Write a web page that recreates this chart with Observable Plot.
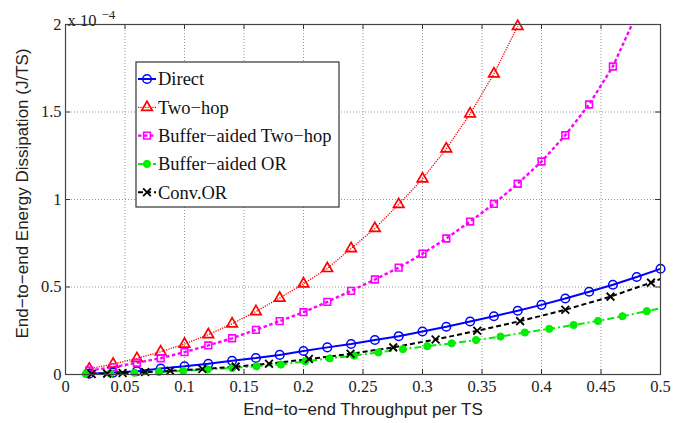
<!DOCTYPE html>
<html>
<head>
<meta charset="utf-8">
<script src="https://cdn.jsdelivr.net/npm/d3@7"></script>
<script src="https://cdn.jsdelivr.net/npm/@observablehq/plot@0.6"></script>
<style>
  html, body { margin: 0; padding: 0; background: #fff; }
</style>
</head>
<body>
<div id="chart"></div>
<script>
// Values of energy dissipation are in units of 1e-4 J/TS (axis multiplier "x 10^-4").
const gridX = [0.02,0.04,0.06,0.08,0.10,0.12,0.14,0.16,0.18,0.20,0.22,0.24,0.26,0.28,0.30,0.32,0.34,0.36,0.38,0.40,0.42,0.44,0.46,0.48,0.50];

const directX = gridX;
const directY = [0.005,0.011,0.019,0.034,0.047,0.061,0.078,0.094,0.112,0.134,0.155,0.174,0.197,0.219,0.246,0.273,0.303,0.333,0.364,0.398,0.434,0.473,0.513,0.557,0.604];

const twoHopX = [0.02,0.04,0.06,0.08,0.10,0.12,0.14,0.16,0.18,0.20,0.22,0.24,0.26,0.28,0.30,0.32,0.34,0.36,0.38];
const twoHopY = [0.032,0.060,0.092,0.130,0.174,0.228,0.290,0.360,0.437,0.518,0.606,0.720,0.835,0.972,1.118,1.290,1.490,1.718,1.990];

const bufTwoHopX = [0.02,0.04,0.06,0.08,0.10,0.12,0.14,0.16,0.18,0.20,0.22,0.24,0.26,0.28,0.30,0.32,0.34,0.36,0.38,0.40,0.42,0.44,0.46,0.48];
const bufTwoHopY = [0.023,0.042,0.067,0.093,0.128,0.166,0.207,0.255,0.305,0.356,0.415,0.478,0.543,0.611,0.690,0.777,0.874,0.975,1.090,1.217,1.367,1.543,1.760,2.060];

const bufORX = [0.017,0.0375,0.058,0.0785,0.099,0.1195,0.14,0.1605,0.181,0.2015,0.222,0.2425,0.263,0.2835,0.304,0.3245,0.345,0.3655,0.386,0.4065,0.427,0.4475,0.468,0.4885,0.509];
const bufORY = [0.003,0.006,0.010,0.015,0.021,0.029,0.037,0.047,0.057,0.075,0.092,0.108,0.126,0.145,0.162,0.178,0.197,0.217,0.240,0.261,0.283,0.306,0.333,0.362,0.392];

const convORX = [0.022,0.035,0.048,0.067,0.088,0.115,0.143,0.171,0.2045,0.2395,0.2754,0.311,0.346,0.382,0.420,0.458,0.492,0.528];
const convORY = [0.003,0.005,0.008,0.014,0.021,0.031,0.045,0.062,0.088,0.118,0.155,0.200,0.250,0.305,0.370,0.445,0.525,0.620];

const seriesNames = ["Direct","Two\u2212hop","Buffer\u2212aided Two\u2212hop","Buffer\u2212aided OR","Conv.OR"];

const xTicks = [0,0.05,0.1,0.15,0.2,0.25,0.3,0.35,0.4,0.45,0.5];
const xTickLabels = ["0","0.05","0.1","0.15","0.2","0.25","0.3","0.35","0.4","0.45","0.5"];
const yTicks = [0,0.5,1,1.5,2];
const yTickLabels = ["0","0.5","1","1.5","2"];

const xTitle = "End\u2212to\u2212end Throughput per TS";
const yTitle = "End\u2212to\u2212end Energy Dissipation (J/TS)";

const styles = [
  {color:"#0000ff", symbol:"circle",   fill:"none",    r:4.3, sw:1.5, lw:2,   dash:null},
  {color:"#ff0000", symbol:"triangle", fill:"none",    r:3.9, sw:1.7, lw:1.3, dash:"1.2,1.2"},
  {color:"#ff00ff", symbol:"square",   fill:"none",    r:3.8, sw:1.6, lw:2.4, dash:"3.5,2.5"},
  {color:"#00ee00", symbol:"circle",   fill:"#00ee00", r:3.6, sw:1,   lw:2,   dash:"7,3,2,3"},
  {color:"#000000", symbol:"times",    fill:"none",    r:3.6, sw:1.8, lw:2,   dash:"5,3"}
];

const xs = [directX, twoHopX, bufTwoHopX, bufORX, convORX];
const ys = [directY, twoHopY, bufTwoHopY, bufORY, convORY];
const tables = xs.map((xa, i) => xa.map((x, j) => ({x, y: ys[i][j]})));

const X0 = 0, X1 = 0.5, Y0 = 0, Y1 = 2;
const W = 690, H = 423, mT = 24, mR = 30, mB = 49, mL = 65;
const tickLenY = (Y1 - Y0) * 5 / (H - mT - mB);
const tickLenX = (X1 - X0) * 5 / (W - mL - mR);
const SERIF = "'Liberation Serif', 'Times New Roman', serif";
const SANS = "'Liberation Sans', Arial, sans-serif";

const marks = [];
// grid
marks.push(Plot.ruleX(xTicks.slice(1, -1), {stroke:"#777", strokeWidth:0.8, strokeDasharray:"1,2"}));
marks.push(Plot.ruleY(yTicks.slice(1, -1), {stroke:"#777", strokeWidth:0.8, strokeDasharray:"1,2"}));
// inward tick marks on all four sides
marks.push(Plot.ruleX(xTicks, {y1: Y0, y2: Y0 + tickLenY, stroke:"#333"}));
marks.push(Plot.ruleX(xTicks, {y1: Y1 - tickLenY, y2: Y1, stroke:"#333"}));
marks.push(Plot.ruleY(yTicks, {x1: X0, x2: X0 + tickLenX, stroke:"#333"}));
marks.push(Plot.ruleY(yTicks, {x1: X1 - tickLenX, x2: X1, stroke:"#333"}));

tables.forEach((t, i) => {
  const s = styles[i];
  marks.push(Plot.line(t, {x:"x", y:"y", stroke:s.color, strokeWidth:s.lw, strokeDasharray:s.dash, strokeLinecap:"butt", strokeLinejoin:"miter", clip:true}));
});
tables.forEach((t, i) => {
  const s = styles[i];
  const inside = t.filter(d => d.x <= X1 && d.y <= Y1);
  marks.push(Plot.dot(inside, {x:"x", y:"y", symbol:s.symbol, r:s.r, stroke:s.color, fill:s.fill, strokeWidth:s.sw}));
});

marks.push(Plot.frame({stroke:"#444", strokeWidth:1.2}));
marks.push(Plot.axisX(xTicks, {tickSize:0, tickPadding:6, tickFormat:(d, i) => xTickLabels[i], label:null, fill:"#222"}));
marks.push(Plot.axisY(yTicks, {tickSize:0, tickPadding:4, tickFormat:(d, i) => yTickLabels[i], label:null, fill:"#222"}));
marks.push(Plot.text([xTitle], {text:d => d, frameAnchor:"bottom", dy:40, textAnchor:"middle", fill:"#222"}));
marks.push(Plot.text([yTitle], {text:d => d, frameAnchor:"left", dx:-43, dy:-6, rotate:-90, textAnchor:"middle", fill:"#222"}));
marks.push(Plot.text(["x 10"], {text:d => d, frameAnchor:"top-left", dx:2, dy:-10, textAnchor:"start", fill:"#222"}));
marks.push(Plot.text(["\u22124"], {text:d => d, frameAnchor:"top-left", dx:36, dy:-15, textAnchor:"start", fill:"#222"}));

const chart = Plot.plot({
  width: W, height: H,
  marginTop: mT, marginRight: mR, marginBottom: mB, marginLeft: mL,
  x: {domain: [X0, X1]},
  y: {domain: [Y0, Y1]},
  style: {background: "#fff", fontSize: "16px", overflow: "visible"},
  marks
});
document.getElementById("chart").appendChild(chart);

const svg = d3.select(chart);
// fonts: serif numbers, sans axis titles (Matlab-like)
svg.selectAll("text").each(function() {
  const t = d3.select(this);
  const s = t.text();
  if (s === xTitle || s === yTitle) {
    t.style("font-family", SANS).style("font-size", "17px");
  } else if (s === "\u22124") {
    t.style("font-family", SERIF).style("font-size", "13px");
  } else {
    t.style("font-family", SERIF).style("font-size", "16.5px");
  }
});

// legend
const lg = svg.append("g");
const bx = 136, by = 62, bw = 203, bh = 145;
lg.append("rect").attr("x", bx).attr("y", by).attr("width", bw).attr("height", bh)
  .attr("fill", "#fff").attr("stroke", "#333").attr("stroke-width", 1.2);
const symMap = {circle: d3.symbolCircle, triangle: d3.symbolTriangle, square: d3.symbolSquare, times: d3.symbolTimes};
seriesNames.forEach((name, i) => {
  const s = styles[i];
  const cy = 79 + i * 28.3;
  lg.append("line").attr("x1", 138).attr("x2", 156).attr("y1", cy).attr("y2", cy)
    .attr("stroke", s.color).attr("stroke-width", s.lw).attr("stroke-dasharray", s.dash);
  lg.append("path").attr("transform", `translate(147,${cy})`)
    .attr("d", d3.symbol(symMap[s.symbol], Math.PI * s.r * s.r)())
    .attr("stroke", s.color).attr("fill", s.fill).attr("stroke-width", s.sw);
  lg.append("text").attr("x", 158).attr("y", cy).attr("dy", "0.35em")
    .attr("text-anchor", "start")
    .style("font-family", SERIF).style("font-size", "18.5px").attr("fill", "#111")
    .text(name);
});
</script>
</body>
</html>
